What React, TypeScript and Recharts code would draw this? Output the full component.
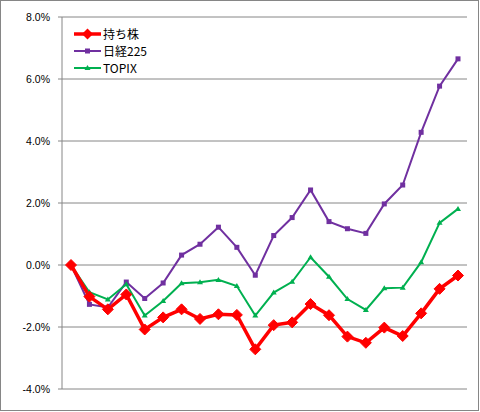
import React from 'react';
import { LineChart, Line, XAxis, YAxis, CartesianGrid } from 'recharts';

const periods = Array.from({ length: 22 }, (_, i) => `P${i + 1}`);

const holdings = [
  0, -1.02, -1.43, -0.95, -2.08, -1.69, -1.43, -1.74, -1.59, -1.61, -2.72,
  -1.94, -1.85, -1.26, -1.62, -2.31, -2.51, -2.02, -2.29, -1.56, -0.77, -0.34,
];
const nikkei = [
  0, -1.27, -1.37, -0.55, -1.08, -0.58, 0.32, 0.67, 1.22, 0.57, -0.33,
  0.95, 1.53, 2.42, 1.4, 1.17, 1.02, 1.97, 2.58, 4.28, 5.77, 6.65,
];
const topix = [
  0, -0.88, -1.11, -0.62, -1.63, -1.16, -0.59, -0.56, -0.48, -0.68, -1.63,
  -0.89, -0.54, 0.25, -0.38, -1.1, -1.45, -0.75, -0.73, 0.09, 1.36, 1.81,
];
const yTicks = [-4, -2, 0, 2, 4, 6, 8];

const data = periods.map((p, i) => ({
  period: p,
  holdings: holdings[i],
  nikkei: nikkei[i],
  topix: topix[i],
}));

const GRAY = '#868686';
const RED = '#FF0000';
const PURPLE = '#7030A0';
const GREEN = '#00B050';

const Diamond = (props: any) => {
  const { cx, cy } = props;
  if (cx == null || cy == null) return null;
  const r = 5.5;
  return (
    <polygon
      key={`d-${props.index}`}
      points={`${cx},${cy - r} ${cx + r},${cy} ${cx},${cy + r} ${cx - r},${cy}`}
      fill={RED}
      stroke={RED}
      strokeWidth={1}
    />
  );
};

const Square = (props: any) => {
  const { cx, cy } = props;
  if (cx == null || cy == null) return null;
  return <rect key={`s-${props.index}`} x={cx - 2.5} y={cy - 2.5} width={5} height={5} fill={PURPLE} />;
};

const Triangle = (props: any) => {
  const { cx, cy } = props;
  if (cx == null || cy == null) return null;
  return (
    <polygon
      key={`t-${props.index}`}
      points={`${cx},${cy - 3} ${cx + 3},${cy + 2} ${cx - 3},${cy + 2}`}
      fill={GREEN}
    />
  );
};

const legendItems = [
  { name: '持ち株', color: RED, width: 3.5, marker: 'diamond' },
  { name: '日経225', color: PURPLE, width: 2, marker: 'square' },
  { name: 'TOPIX', color: GREEN, width: 2, marker: 'triangle' },
];

function ChartLegend() {
  return (
    <div
      style={{
        position: 'absolute',
        left: 74,
        top: 25,
        fontFamily: '"Noto Sans CJK JP", sans-serif',
        fontSize: 12,
        lineHeight: '17px',
        color: '#000',
      }}
    >
      {legendItems.map((item) => (
        <div key={item.name} style={{ display: 'flex', alignItems: 'center', height: 17 }}>
          <svg width={28} height={14} style={{ marginRight: 1 }}>
            <line x1={0} y1={7} x2={27} y2={7} stroke={item.color} strokeWidth={item.width} />
            {item.marker === 'diamond' && (
              <polygon points="13.5,1.5 19,7 13.5,12.5 8,7" fill={item.color} />
            )}
            {item.marker === 'square' && <rect x={11} y={4.5} width={5} height={5} fill={item.color} />}
            {item.marker === 'triangle' && <polygon points="13.5,4 16.5,9 10.5,9" fill={item.color} />}
          </svg>
          <span>{item.name}</span>
        </div>
      ))}
    </div>
  );
}

export default function App() {
  return (
    <div style={{ position: 'absolute', left: 0, top: 0, width: 480, height: 412, background: '#fff' }}>
      <LineChart width={480} height={412} data={data} margin={{ top: 17, right: 13, bottom: 23, left: 0 }}>
        <CartesianGrid vertical={false} stroke={GRAY} strokeWidth={1} />
        <XAxis dataKey="period" hide padding={{ left: 9, right: 9 }} />
        <YAxis
          width={62}
          domain={[-4, 8]}
          ticks={yTicks}
          interval={0}
          tickFormatter={(v: number) => `${v.toFixed(1)}%`}
          axisLine={{ stroke: GRAY }}
          tickLine={{ stroke: GRAY }}
          tickSize={4}
          tickMargin={8}
          tick={{ fill: '#000', fontSize: 10.5, fontFamily: '"Liberation Sans", Arial, sans-serif' }}
        />
        <Line
          dataKey="nikkei"
          stroke={PURPLE}
          strokeWidth={2}
          dot={<Square />}
          activeDot={false}
          isAnimationActive={false}
        />
        <Line
          dataKey="topix"
          stroke={GREEN}
          strokeWidth={2}
          dot={<Triangle />}
          activeDot={false}
          isAnimationActive={false}
        />
        <Line
          dataKey="holdings"
          stroke={RED}
          strokeWidth={3.5}
          dot={<Diamond />}
          activeDot={false}
          isAnimationActive={false}
        />
      </LineChart>
      <ChartLegend />
      <div
        style={{
          position: 'absolute',
          left: 0,
          top: 0,
          width: 477,
          height: 409,
          border: `1px solid ${GRAY}`,
          pointerEvents: 'none',
        }}
      />
    </div>
  );
}
